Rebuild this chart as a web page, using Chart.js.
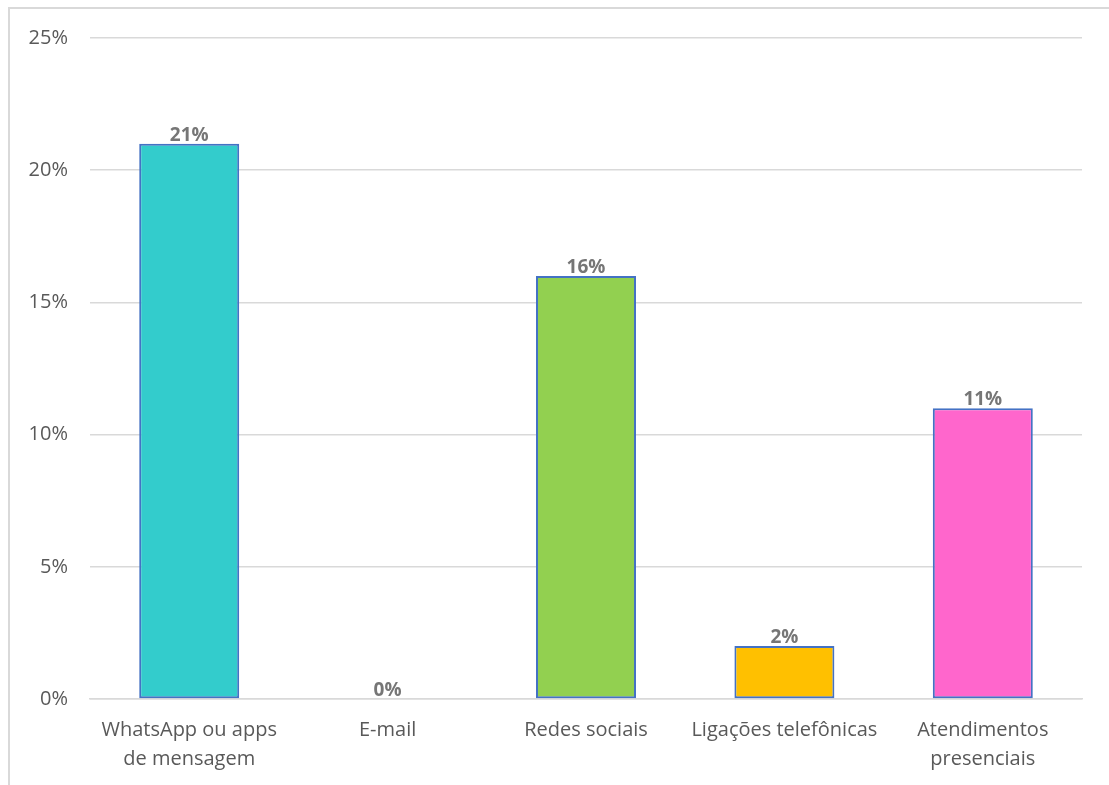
<!DOCTYPE html>
<html lang="pt">
<head>
<meta charset="utf-8">
<title>Canais de atendimento</title>
<script src="https://cdn.jsdelivr.net/npm/chart.js@4/dist/chart.umd.min.js"></script>
<style>
  html, body { margin: 0; padding: 0; background: #fff; overflow: hidden; }
  #frame {
    position: absolute; left: 8px; top: 7px; width: 2000px; height: 2000px;
    border: 2px solid #d9d9d9; box-sizing: border-box;
  }
  #wrap { position: absolute; left: 0; top: 0; width: 1109px; height: 785px; }
</style>
</head>
<body>
<div id="frame"></div>
<div id="wrap"><canvas id="chart" width="1109" height="785"></canvas></div>
<script>
// Canais utilizados (percentual)
const categories = [
  ['WhatsApp ou apps', 'de mensagem'],
  'E-mail',
  'Redes sociais',
  'Ligações telefônicas',
  ['Atendimentos', 'presenciais']
];
const shares = [21, 0, 16, 2, 11];
const barColors = ['#33CCCC', '#33CCCC', '#92D050', '#FFC000', '#FF66CC'];
const yTicks = [0, 5, 10, 15, 20, 25];

const FONT = "'Open Sans', Lato, sans-serif";
const GRAY = '#595959';

// Rótulos de valor acima de cada barra
const valueLabels = {
  id: 'valueLabels',
  afterDatasetsDraw(chart) {
    const ctx = chart.ctx;
    const meta = chart.getDatasetMeta(0);
    ctx.save();
    ctx.font = "bold 19px " + FONT;
    ctx.fillStyle = '#767676';
    ctx.textAlign = 'center';
    ctx.textBaseline = 'bottom';
    meta.data.forEach((bar, i) => {
      ctx.fillText(shares[i] + '%', bar.x, bar.y + 1);
    });
    ctx.restore();
  }
};

new Chart(document.getElementById('chart'), {
  type: 'bar',
  data: {
    labels: categories,
    datasets: [{
      data: shares,
      backgroundColor: barColors,
      borderColor: '#4472C4',
      borderWidth: 2,
      borderSkipped: false,
      barPercentage: 0.504,
      categoryPercentage: 1
    }]
  },
  options: {
    responsive: false,
    animation: false,
    events: [],
    layout: { padding: { left: 0, top: 38, right: 27, bottom: 0 } },
    plugins: { legend: { display: false }, tooltip: { enabled: false } },
    scales: {
      x: {
        grid: { display: false, drawTicks: false },
        border: { display: true, color: '#d9d9d9', width: 1.5 },
        ticks: {
          color: GRAY,
          font: { family: FONT, size: 20, lineHeight: 1.45 },
          padding: 17,
          maxRotation: 0,
          autoSkip: false
        },
        afterFit(scale) { scale.height = 86; }
      },
      y: {
        min: 0,
        max: 25,
        afterBuildTicks(scale) { scale.ticks = yTicks.map(v => ({ value: v })); },
        grid: { color: '#d9d9d9', lineWidth: 1.5, drawTicks: false },
        border: { display: false },
        ticks: {
          color: GRAY,
          font: { family: FONT, size: 20 },
          padding: 22,
          callback: v => v + '%'
        },
        afterFit(scale) { scale.width = 90; }
      }
    }
  },
  plugins: [valueLabels]
});
</script>
</body>
</html>
